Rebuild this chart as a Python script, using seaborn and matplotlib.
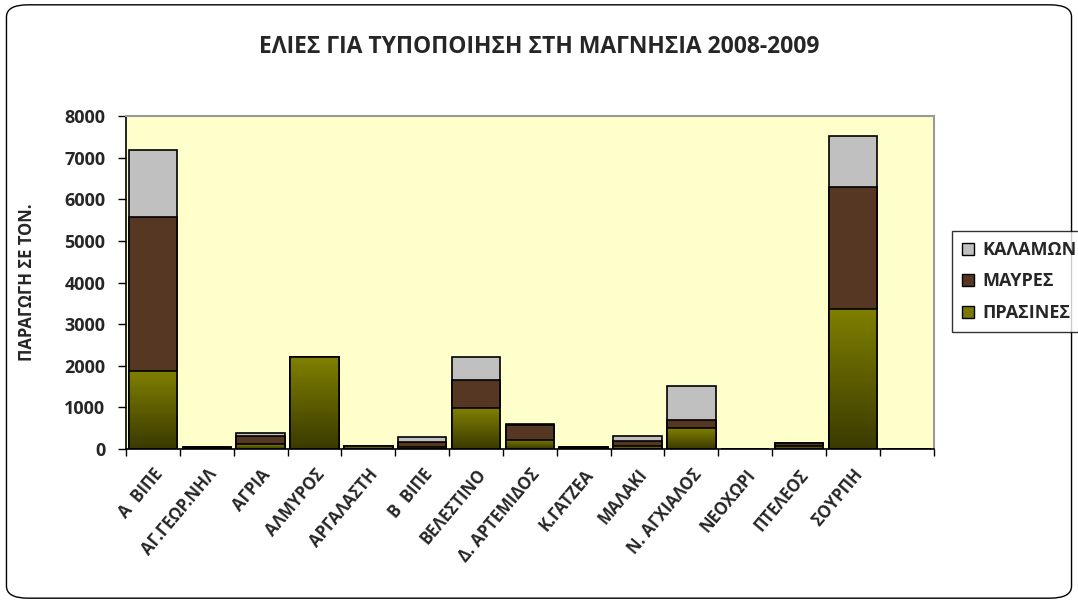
import numpy as np
import pandas as pd
import matplotlib
matplotlib.use("Agg")
import matplotlib.pyplot as plt
import seaborn as sns
from matplotlib.patches import FancyBboxPatch, Patch
from matplotlib.colors import LinearSegmentedColormap

areas = ["Α  ΒΙΠΕ", "ΑΓ.ΓΕΩΡ.ΝΗΛ", "ΑΓΡΙΑ", "ΑΛΜΥΡΟΣ", "ΑΡΓΑΛΑΣΤΗ", "Β  ΒΙΠΕ",
         "ΒΕΛΕΣΤΙΝΟ", "Δ. ΑΡΤΕΜΙΔΟΣ", "Κ.ΓΑΤΖΕΑ", "ΜΑΛΑΚΙ", "Ν. ΑΓΧΙΑΛΟΣ",
         "ΝΕΟΧΩΡΙ", "ΠΤΕΛΕΟΣ", "ΣΟΥΡΠΗ", " "]
prasines = [1880, 30, 110, 2200, 60, 40, 980, 220, 30, 70, 500, 0, 80, 3370, 0]
mavres = [3700, 10, 200, 0, 20, 140, 670, 360, 10, 130, 200, 0, 70, 2930, 0]
kalamon = [1600, 0, 80, 0, 0, 100, 550, 20, 0, 110, 820, 0, 0, 1230, 0]

df = pd.DataFrame({"area": areas, "green": prasines, "black": mavres, "kal": kalamon})
df["gb"] = df["green"] + df["black"]
df["total"] = df["gb"] + df["kal"]

sns.set_theme(style="white")
plt.rcParams["font.family"] = "Open Sans"

fig = plt.figure(figsize=(10.78, 6.03), dpi=100)
fig.patches.append(FancyBboxPatch((0.006, 0.008), 0.988, 0.984, boxstyle="round,pad=0,rounding_size=0.02",
                                  transform=fig.transFigure, fill=False, ec="black", lw=1.0))
ax = fig.add_axes([0.117, 0.2554, 0.749, 0.5522])
ax.set_facecolor("#FFFFCC")

grey_c = "#c0c0c0"
brown_c = "#553724"
green_c = "#7a7a00"
sns.barplot(data=df, x="area", y="total", color=grey_c, width=0.9, saturation=1,
            edgecolor="black", linewidth=1.2, ax=ax)
sns.barplot(data=df, x="area", y="gb", color=brown_c, width=0.9, saturation=1,
            edgecolor="black", linewidth=1.2, ax=ax)
n_before = len(ax.patches)
sns.barplot(data=df, x="area", y="green", color=green_c, width=0.9, saturation=1,
            edgecolor="black", linewidth=1.2, ax=ax)

# vertical gradient on the green bars
cmap = LinearSegmentedColormap.from_list("olive", ["#3a3a00", "#808000"])
grad = np.linspace(0, 1, 256).reshape(-1, 1)
for p in ax.patches[n_before:]:
    h = p.get_height()
    if h <= 0:
        continue
    x0 = p.get_x()
    im = ax.imshow(grad, cmap=cmap, origin="lower", aspect="auto",
                   extent=(x0, x0 + p.get_width(), 0, h), zorder=p.get_zorder(),
                   vmin=0, vmax=1)
    im.set_clip_path(p)
    p.set_facecolor("none")
    p.set_zorder(p.get_zorder() + 0.1)

ax.set_xlim(-0.5, len(areas) - 0.5)
ax.set_ylim(0, 8000)
ax.set_yticks(range(0, 8001, 1000))
ax.set_yticklabels([str(v) for v in range(0, 8001, 1000)], fontsize=13, fontweight="bold")
ax.set_xticks(range(len(areas)))
ax.set_xticklabels(areas, rotation=50, ha="right", rotation_mode="anchor",
                   fontsize=12, fontweight="bold")
ax.set_xticks(np.arange(-0.5, len(areas), 1), minor=True)
ax.tick_params(axis="x", which="major", length=0, pad=12)
ax.tick_params(axis="x", which="minor", length=5, width=1, color="black", direction="out", bottom=True)
ax.tick_params(axis="y", length=6, width=1, color="black", direction="out", left=True, pad=9)
ax.set_xlabel("")
ax.set_ylabel("ΠΑΡΑΓΩΓΗ ΣΕ ΤΟΝ.", fontsize=12, fontweight="bold")
ax.yaxis.set_label_coords(-0.112, 0.5)

for s in ["left", "bottom"]:
    ax.spines[s].set_color("black")
    ax.spines[s].set_linewidth(1.2)
for s in ["top", "right"]:
    ax.spines[s].set_color("#999999")
    ax.spines[s].set_linewidth(1.5)

fig.text(0.5, 0.922, "ΕΛΙΕΣ ΓΙΑ ΤΥΠΟΠΟΙΗΣΗ ΣΤΗ ΜΑΓΝΗΣΙΑ 2008-2009", ha="center", va="center",
         fontsize=16.5, fontweight="bold")

handles = [Patch(facecolor=grey_c, edgecolor="black"),
           Patch(facecolor=brown_c, edgecolor="black"),
           Patch(facecolor=green_c, edgecolor="black")]
leg = fig.legend(handles, ["ΚΑΛΑΜΩΝ", "ΜΑΥΡΕΣ", "ΠΡΑΣΙΝΕΣ"], loc="upper left",
                 bbox_to_anchor=(952 / 1078, 1 - 231 / 603), frameon=True, fancybox=False,
                 prop={"weight": "bold", "size": 13}, handlelength=0.65, handleheight=0.65,
                 handletextpad=0.5, labelspacing=0.75, borderpad=0.55, borderaxespad=0)
leg.get_frame().set_edgecolor("black")
leg.get_frame().set_linewidth(1.0)

fig.savefig("out.png", dpi=100)
